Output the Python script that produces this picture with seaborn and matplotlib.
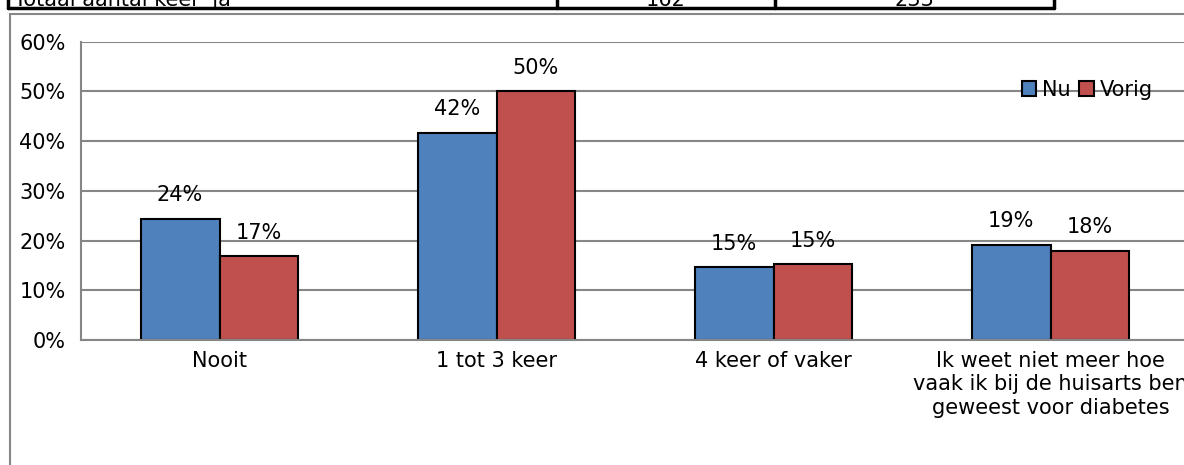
import pandas as pd
import numpy as np
import seaborn as sns
import matplotlib
matplotlib.use('Agg')
import matplotlib.pyplot as plt
from matplotlib.patches import Rectangle, Patch
from matplotlib.lines import Line2D

# data
categories = ["Nooit", "1 tot 3 keer", "4 keer of vaker",
              "Ik weet niet meer hoe\nvaak ik bij de huisarts ben\ngeweest voor diabetes"]
series = ["Nu", "Vorig"]
nu_values = [24.4, 41.6, 14.6, 19.2]
vorig_values = [16.8, 50.0, 15.2, 18.0]
y_ticks = [0, 10, 20, 30, 40, 50, 60]
table_label = "Totaal aantal keer 'ja'"
table_values = ["162", "233"]

colors = {"Nu": "#4F81BD", "Vorig": "#C0504D"}
grey = "#868686"

df = pd.DataFrame({
    "categorie": categories * 2,
    "reeks": ["Nu"] * 4 + ["Vorig"] * 4,
    "waarde": nu_values + vorig_values,
})

sns.set_style("white")
plt.rcParams['font.family'] = ['DejaVu Sans']
plt.rcParams['font.size'] = 15
plt.rcParams['text.color'] = 'black'
plt.rcParams['xtick.color'] = 'black'
plt.rcParams['ytick.color'] = 'black'

fig = plt.figure(figsize=(11.84, 4.65), dpi=100)
ax = fig.add_axes([81 / 1184, 1 - 340 / 465, 1108 / 1184, (340 - 41.7) / 465])

sns.barplot(data=df, x="categorie", y="waarde", hue="reeks", order=categories,
            hue_order=series, palette=colors, width=0.57, gap=0,
            edgecolor="black", linewidth=1.5, saturation=1, ax=ax, legend=False)

for cont in ax.containers:
    ax.bar_label(cont, labels=[f"{v:.0f}%" for v in cont.datavalues],
                 padding=10, fontsize=15, color="black")

ax.set_ylim(0, 60)
ax.set_yticks(y_ticks)
ax.set_yticklabels([f"{v}%" for v in y_ticks])
ax.set_xlabel("")
ax.set_ylabel("")
ax.yaxis.grid(True, color=grey, linewidth=1.5)
ax.set_axisbelow(True)
for s in ["top", "right"]:
    ax.spines[s].set_visible(False)
for s in ["left", "bottom"]:
    ax.spines[s].set_color(grey)
    ax.spines[s].set_linewidth(1.5)
ax.tick_params(axis="y", length=5, width=1.5, color=grey, labelcolor="black", pad=6, labelsize=15)
ax.tick_params(axis="x", length=0, pad=8, labelcolor="black", labelsize=15)
for t in ax.get_xticklabels():
    t.set_linespacing(1.2)

# legend
handles = [Patch(facecolor=colors[s], edgecolor="black", linewidth=1.5, label=s) for s in series]
fig.legend(handles=handles, loc="center right", bbox_to_anchor=(1172 / 1184, 1 - 90 / 465),
           ncol=2, frameon=False, handlelength=0.7, handleheight=0.7,
           handletextpad=0.3, columnspacing=0.4, fontsize=15)

# chart frame
fig.add_artist(Rectangle((10 / 1184, -0.1), 1.2, 1 - 14 / 465 + 0.1, transform=fig.transFigure,
                         fill=False, edgecolor=grey, linewidth=1.5, clip_on=False))

# cut-off table row above the chart
ytab = 1 - 8 / 465
fig.add_artist(Line2D([8 / 1184, 1054 / 1184], [ytab, ytab], transform=fig.transFigure,
                      color="black", linewidth=2.5))
for xv in [8, 557, 775, 1054]:
    fig.add_artist(Line2D([xv / 1184, xv / 1184], [ytab, 1.02], transform=fig.transFigure,
                          color="black", linewidth=2.5))
fig.text(14 / 1184, 1 - 6 / 465, table_label, ha="left", va="baseline", fontsize=15)
fig.text(666 / 1184, 1 - 6 / 465, table_values[0], ha="center", va="baseline", fontsize=15)
fig.text(914 / 1184, 1 - 6 / 465, table_values[1], ha="center", va="baseline", fontsize=15)

fig.savefig("out.png", dpi=100)
